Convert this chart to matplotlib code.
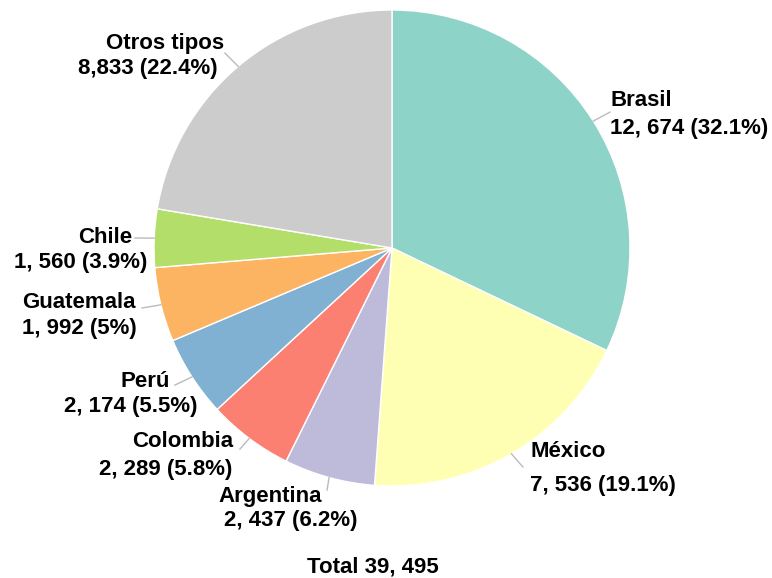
import matplotlib.pyplot as plt
import numpy as np

# datos
countries = ["Brasil", "México", "Argentina", "Colombia", "Perú", "Guatemala", "Chile", "Otros tipos"]
counts = [12674, 7536, 2437, 2289, 2174, 1992, 1560, 8833]
count_labels = ["12, 674", "7, 536", "2, 437", "2, 289", "2, 174", "1, 992", "1, 560", "8,833"]
pct_labels = ["32.1%", "19.1%", "6.2%", "5.8%", "5.5%", "5%", "3.9%", "22.4%"]
total_label = "Total 39, 495"
colors = ["#8dd3c7", "#ffffb3", "#bebada", "#fb8072", "#80b1d3", "#fdb462", "#b3de69", "#cccccc"]

# label layout (pie radius = 1): name (x, y, ha), value (x, y, ha), leader end
layout = [
    ((0.916, 0.618, "left"), (0.916, 0.504, "left"), (0.916, 0.571)),
    ((0.580, -0.857, "left"), (0.580, -0.996, "left"), (0.550, -0.920)),
    ((-0.731, -1.046, "left"), (-0.706, -1.147, "left"), (-0.273, -1.017)),
    ((-0.668, -0.815, "right"), (-0.672, -0.929, "right"), (-0.639, -0.845)),
    ((-0.933, -0.559, "right"), (-0.819, -0.668, "right"), (-0.912, -0.576)),
    ((-1.076, -0.231, "right"), (-1.071, -0.340, "right"), (-1.050, -0.252)),
    ((-1.092, 0.046, "right"), (-1.029, -0.059, "right"), (-1.080, 0.042)),
    ((-0.706, 0.861, "right"), (-0.731, 0.756, "right"), (-0.702, 0.819)),
]

plt.rcParams["font.family"] = ["Liberation Sans", "DejaVu Sans"]

W, H = 772, 578
cx, cy, R = 392, 248, 238

fig = plt.figure(figsize=(W / 100, H / 100), dpi=100)
ax = fig.add_axes([0, 0, 1, 1])

wedges, _ = ax.pie(
    counts,
    colors=colors,
    startangle=90,
    counterclock=False,
    radius=1.0,
    wedgeprops=dict(edgecolor="white", linewidth=1),
)

ax.set_xlim(-cx / R, (W - cx) / R)
ax.set_ylim(-(H - cy) / R, cy / R)
ax.set_aspect("equal")
ax.axis("off")

for w, name, cnt, pct, (nm, val, end) in zip(wedges, countries, count_labels, pct_labels, layout):
    mid = np.deg2rad((w.theta1 + w.theta2) / 2)
    ax.plot([np.cos(mid), end[0]], [np.sin(mid), end[1]], color="#bbbbbb", lw=1)
    ax.text(nm[0], nm[1], name, ha=nm[2], va="center", fontsize=16, fontweight="bold")
    ax.text(val[0], val[1], f"{cnt} ({pct})", ha=val[2], va="center", fontsize=16, fontweight="bold")

ax.text(-0.08, -1.34, total_label, ha="center", va="center", fontsize=16, fontweight="bold")

fig.savefig("out.png", dpi=100)
